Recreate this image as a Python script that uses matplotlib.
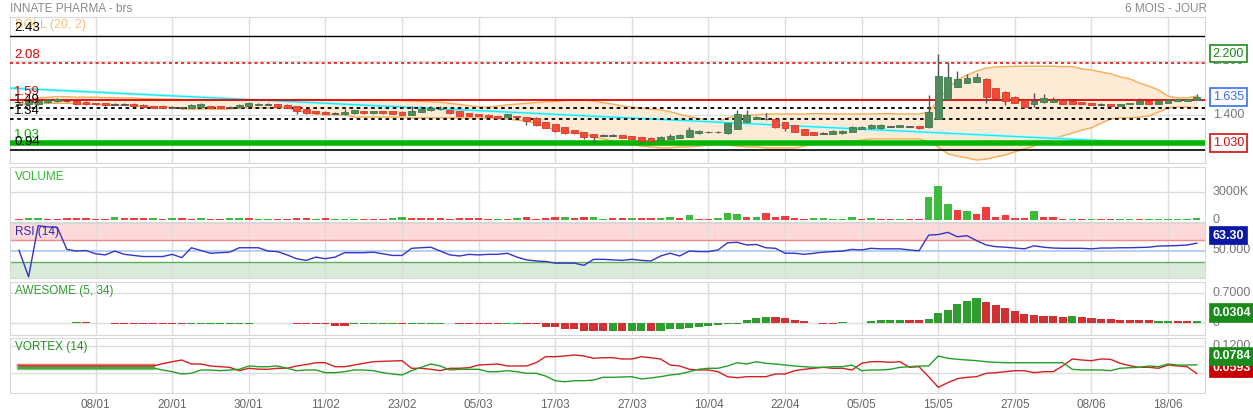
import numpy as np
import matplotlib.pyplot as plt
from matplotlib.transforms import blended_transform_factory

plt.rcParams['font.family'] = ['Liberation Sans', 'DejaVu Sans']

# ---- data (one entry per trading day) ----
tick_pos = [8, 16, 24, 32, 40, 48, 56, 64, 72, 80, 88, 96, 104, 112, 120]
tick_labels = ['08/01', '20/01', '30/01', '11/02', '23/02', '05/03', '17/03', '27/03',
               '10/04', '22/04', '05/05', '15/05', '27/05', '08/06', '18/06']

opens = [1.54, 1.54, 1.54, 1.57, 1.58, 1.58, 1.58, 1.57, 1.55, 1.55,
         1.54, 1.54, 1.54, 1.53, 1.515, 1.515, 1.50, 1.49, 1.49, 1.50,
         1.515, 1.515, 1.50, 1.50, 1.515, 1.53, 1.54, 1.54, 1.53, 1.515,
         1.475, 1.45, 1.44, 1.42, 1.41, 1.42, 1.45, 1.42, 1.45, 1.45,
         1.44, 1.40, 1.44, 1.46, 1.47, 1.46, 1.45, 1.42, 1.41, 1.40,
         1.385, 1.37, 1.385, 1.37, 1.36, 1.305, 1.28, 1.24, 1.20, 1.175,
         1.15, 1.135, 1.135, 1.135, 1.12, 1.11, 1.10, 1.07, 1.085, 1.10,
         1.11, 1.16, 1.175, 1.175, 1.16, 1.215, 1.305, 1.345, 1.345, 1.345,
         1.305, 1.265, 1.215, 1.175, 1.16, 1.15, 1.16, 1.175, 1.215, 1.225,
         1.225, 1.25, 1.24, 1.25, 1.25, 1.24, 1.345, 1.605, 1.765, 1.815,
         1.83, 1.87, 1.75, 1.70, 1.635, 1.595, 1.54, 1.565, 1.57, 1.595,
         1.58, 1.565, 1.555, 1.54, 1.54, 1.515, 1.54, 1.54, 1.58, 1.54,
         1.555, 1.58, 1.58, 1.595]
closes = [1.54, 1.58, 1.58, 1.59, 1.61, 1.58, 1.54, 1.54, 1.54, 1.53,
          1.54, 1.54, 1.515, 1.50, 1.49, 1.49, 1.50, 1.49, 1.53, 1.54,
          1.49, 1.49, 1.50, 1.53, 1.555, 1.54, 1.54, 1.50, 1.49, 1.45,
          1.42, 1.42, 1.41, 1.42, 1.44, 1.46, 1.42, 1.45, 1.42, 1.41,
          1.40, 1.45, 1.475, 1.49, 1.48, 1.42, 1.385, 1.385, 1.385, 1.37,
          1.36, 1.41, 1.37, 1.32, 1.265, 1.23, 1.19, 1.16, 1.16, 1.11,
          1.11, 1.135, 1.135, 1.10, 1.085, 1.055, 1.055, 1.11, 1.12, 1.135,
          1.20, 1.19, 1.175, 1.175, 1.29, 1.41, 1.395, 1.37, 1.345, 1.24,
          1.23, 1.175, 1.135, 1.135, 1.16, 1.19, 1.19, 1.24, 1.24, 1.265,
          1.265, 1.25, 1.265, 1.25, 1.225, 1.435, 1.905, 1.895, 1.87, 1.88,
          1.895, 1.635, 1.62, 1.58, 1.555, 1.50, 1.58, 1.62, 1.595, 1.54,
          1.54, 1.54, 1.53, 1.54, 1.515, 1.54, 1.555, 1.58, 1.54, 1.58,
          1.595, 1.605, 1.605, 1.635]
highs = [1.55, 1.59, 1.59, 1.60, 1.62, 1.60, 1.59, 1.58, 1.56, 1.56,
         1.56, 1.56, 1.55, 1.54, 1.52, 1.52, 1.515, 1.50, 1.54, 1.55,
         1.52, 1.52, 1.515, 1.54, 1.565, 1.55, 1.555, 1.545, 1.535, 1.52,
         1.48, 1.455, 1.445, 1.43, 1.475, 1.465, 1.455, 1.455, 1.455, 1.455,
         1.445, 1.515, 1.515, 1.515, 1.515, 1.465, 1.455, 1.425, 1.415, 1.405,
         1.39, 1.415, 1.39, 1.375, 1.365, 1.31, 1.285, 1.245, 1.205, 1.18,
         1.155, 1.15, 1.15, 1.14, 1.125, 1.115, 1.105, 1.12, 1.15, 1.145,
         1.24, 1.20, 1.185, 1.19, 1.295, 1.46, 1.46, 1.385, 1.42, 1.35,
         1.31, 1.27, 1.22, 1.18, 1.17, 1.20, 1.195, 1.25, 1.25, 1.28,
         1.275, 1.26, 1.27, 1.26, 1.255, 1.66, 2.195, 2.09, 1.97, 1.93,
         1.95, 1.875, 1.755, 1.705, 1.64, 1.60, 1.685, 1.67, 1.63, 1.60,
         1.585, 1.57, 1.56, 1.55, 1.545, 1.545, 1.56, 1.62, 1.585, 1.585,
         1.61, 1.61, 1.61, 1.67]
lows = [1.53, 1.53, 1.53, 1.56, 1.57, 1.57, 1.53, 1.53, 1.53, 1.52,
        1.53, 1.53, 1.51, 1.495, 1.485, 1.485, 1.49, 1.48, 1.485, 1.495,
        1.485, 1.485, 1.49, 1.495, 1.51, 1.525, 1.53, 1.495, 1.485, 1.41,
        1.41, 1.415, 1.405, 1.41, 1.40, 1.415, 1.415, 1.415, 1.415, 1.405,
        1.395, 1.395, 1.435, 1.455, 1.465, 1.415, 1.38, 1.38, 1.38, 1.365,
        1.355, 1.365, 1.365, 1.265, 1.26, 1.225, 1.175, 1.15, 1.155, 1.085,
        1.045, 1.125, 1.125, 1.095, 1.08, 1.05, 1.05, 1.065, 1.08, 1.095,
        1.105, 1.155, 1.165, 1.16, 1.155, 1.21, 1.30, 1.34, 1.335, 1.23,
        1.19, 1.17, 1.13, 1.13, 1.15, 1.145, 1.155, 1.17, 1.21, 1.22,
        1.22, 1.24, 1.235, 1.24, 1.22, 1.23, 1.34, 1.60, 1.76, 1.81,
        1.825, 1.555, 1.605, 1.53, 1.55, 1.495, 1.50, 1.56, 1.565, 1.535,
        1.535, 1.535, 1.525, 1.53, 1.51, 1.51, 1.535, 1.535, 1.535, 1.535,
        1.55, 1.575, 1.575, 1.59]

boll_upper = [1.555, 1.595, 1.62, 1.63, 1.635, 1.635, 1.63, 1.63, 1.63, 1.625,
              1.625, 1.62, 1.62, 1.61, 1.61, 1.605, 1.605, 1.60, 1.60, 1.60,
              1.60, 1.60, 1.60, 1.60, 1.60, 1.595, 1.595, 1.595, 1.595, 1.60,
              1.60, 1.595, 1.59, 1.59, 1.59, 1.59, 1.595, 1.595, 1.59, 1.59,
              1.585, 1.58, 1.575, 1.57, 1.565, 1.55, 1.535, 1.52, 1.505, 1.50,
              1.515, 1.53, 1.54, 1.55, 1.56, 1.57, 1.575, 1.585, 1.59, 1.593,
              1.58, 1.56, 1.54, 1.515, 1.50, 1.49, 1.475, 1.465, 1.44, 1.405,
              1.38, 1.35, 1.325, 1.31, 1.36, 1.385, 1.395, 1.40, 1.41, 1.41,
              1.41, 1.41, 1.41, 1.415, 1.415, 1.41, 1.41, 1.41, 1.41, 1.41,
              1.415, 1.415, 1.41, 1.41, 1.41, 1.435, 1.59, 1.75, 1.855, 1.92,
              1.97, 2.01, 2.025, 2.03, 2.035, 2.035, 2.035, 2.035, 2.035, 2.03,
              2.03, 2.00, 1.985, 1.96, 1.935, 1.895, 1.87, 1.815, 1.775, 1.725,
              1.645, 1.62, 1.62, 1.645]
boll_lower = [1.54, 1.54, 1.545, 1.55, 1.55, 1.55, 1.545, 1.54, 1.535, 1.525,
              1.525, 1.525, 1.525, 1.50, 1.50, 1.50, 1.50, 1.475, 1.475, 1.475,
              1.475, 1.475, 1.475, 1.49, 1.49, 1.49, 1.49, 1.49, 1.49, 1.46,
              1.425, 1.41, 1.40, 1.40, 1.40, 1.37, 1.37, 1.37, 1.37, 1.37,
              1.37, 1.36, 1.36, 1.36, 1.36, 1.36, 1.36, 1.36, 1.36, 1.36,
              1.345, 1.345, 1.33, 1.32, 1.28, 1.24, 1.20, 1.175, 1.16, 1.15,
              1.11, 1.085, 1.055, 1.03, 1.005, 0.99, 0.98, 0.965, 0.965, 0.98,
              0.98, 0.99, 1.005, 1.02, 1.005, 0.99, 0.98, 0.98, 0.965, 0.965,
              0.965, 0.965, 0.99, 1.02, 1.03, 1.045, 1.055, 1.055, 1.07, 1.085,
              1.085, 1.085, 1.085, 1.085, 1.085, 1.045, 0.98, 0.89, 0.86, 0.835,
              0.81, 0.82, 0.85, 0.875, 0.915, 0.955, 0.99, 1.045, 1.085, 1.125,
              1.16, 1.20, 1.23, 1.29, 1.345, 1.36, 1.36, 1.37, 1.385, 1.435,
              1.49, 1.50, 1.50, 1.49]

# trendline (cyan), two anchor points
trend_x = [-1, 115]
trend_y = [1.75, 1.05]

# horizontal price levels
levels = [2.43, 2.08, 1.59, 1.49, 1.34, 1.03, 0.94]
level_labels = ['2.43', '2.08', '1.59', '1.49', '1.34', '1.03', '0.94']
level_colors = ['black', '#e00000', '#e00000', 'black', 'black', '#00b400', 'black']

volume_k = [150, 170, 170, 140, 160, 180, 200, 190, 140, 150,
            300, 190, 200, 190, 180, 160, 260, 170, 150, 170,
            150, 160, 180, 260, 170, 150, 150, 150, 150, 250,
            250, 140, 220, 150, 150, 140, 150, 150, 140, 180,
            280, 180, 200, 210, 210, 150, 200, 240, 170, 160,
            140, 150, 170, 340, 150, 200, 370, 320, 220, 340,
            340, 160, 180, 230, 230, 230, 180, 230, 300, 230,
            535, 160, 160, 180, 780, 640, 360, 320, 780, 360,
            430, 230, 160, 180, 180, 120, 120, 320, 160, 180,
            120, 120, 120, 120, 120, 2460, 3640, 1710, 1070, 960,
            640, 1420, 320, 530, 230, 230, 960, 320, 320, 160,
            160, 160, 160, 160, 140, 90, 90, 160, 90, 120,
            160, 140, 90, 250]
volume_dir = ('rggrrrrrrr' 'grrrgrgrrg' 'rrggrggrrr' 'rgrgggrrrg' 'grrrrrrrrr'
              'grgrrrrgrr' 'ggrrgrrggr' 'grrgggrgrr' 'rrrgggggrg' 'rrgrrgggrg'
              'rrrrrrgrrr' 'grgrrggrgg' 'gggg')

rsi = [50.5, 2, 95, 93, 92, 52, 49, 50, 44, 42,
       49, 43, 41, 39, 39, 39, 43, 37, 55, 50,
       45, 46, 47, 55, 55, 55, 49, 48, 42, 35,
       32, 38, 35, 38, 46, 46, 46, 47, 44, 41,
       41, 54, 55, 56, 49, 42, 40, 43, 42, 43,
       43, 45, 38, 33, 31, 30, 27, 27, 27, 23,
       34, 34, 33, 32, 34, 32, 31, 40, 45, 40,
       49, 48, 48, 51, 64, 65, 60, 61, 55, 54,
       45, 45, 43, 45, 47, 48, 49, 52, 51, 54,
       53, 53, 53, 51, 49.5, 78, 79, 83, 75, 77,
       68, 60, 57, 56, 54.5, 53, 58.5, 56, 54.5, 54,
       54, 54, 53, 54.5, 54.5, 55, 55, 55.5, 56, 58,
       58.5, 59, 60, 63.3]

awesome = [None, None, None, None, None, None, 0.02, 0.02, None, None,
           -0.02, -0.02, -0.02, -0.02, -0.02, -0.02, -0.03, -0.03, -0.02, -0.02,
           -0.02, -0.02, -0.02, -0.02, -0.02, None, None, None, None, -0.02,
           -0.02, -0.02, -0.03, -0.07, -0.07, -0.035, -0.035, -0.035, -0.035, -0.035,
           -0.03, -0.025, -0.025, -0.025, -0.025, None, -0.02, -0.02, -0.025, -0.025,
           -0.025, -0.025, -0.025, -0.03, -0.03, -0.095, -0.095, -0.15, -0.15, -0.19,
           -0.19, -0.19, -0.19, -0.19, -0.19, -0.19, -0.19, -0.19, -0.16, -0.14,
           -0.12, -0.095, -0.07, -0.048, -0.024, -0.02, 0.063, 0.11, 0.135, 0.135,
           0.12, 0.056, 0.032, -0.015, -0.024, -0.024, 0.015, None, None, 0.032,
           0.056, 0.056, 0.056, 0.056, 0.055, 0.095, 0.22, 0.31, 0.44, 0.52,
           0.59, 0.50, 0.42, 0.35, 0.28, 0.21, 0.19, 0.165, 0.165, 0.14,
           0.165, 0.135, 0.11, 0.095, 0.095, 0.07, 0.07, 0.07, 0.063, 0.04,
           0.032, 0.032, 0.032, 0.0304]
awesome_dir = ('------gr--' 'rrrrrrrrgg' 'ggggg----r' 'rrrrrggggg' 'rgggg-rrrr'
               'rggrrrrrrr' 'rrgrggrggg' 'gggggggggr' 'rrrrrrg--g' 'gggrrggggg'
               'grrrrrrrrr' 'grrrrrrrrg' 'grrg')

vortex_minus = [0.0759] * 15 + [
    0.081, 0.0852, 0.0889, 0.0802, 0.0802, 0.0759, 0.0743, 0.073, 0.0657, 0.0709,
    0.069, 0.0687, 0.0709, 0.0709, 0.0759, 0.079, 0.083, 0.083, 0.0743, 0.0743,
    0.078, 0.0817, 0.0852, 0.086, 0.0867, 0.0874, 0.0709, 0.0709, 0.0687, 0.0657,
    0.0709, 0.0709, 0.0722, 0.078, 0.079, 0.0802, 0.0759, 0.0759, 0.0759, 0.083,
    0.0961, 0.0961, 0.0976, 0.0998, 0.0976, 0.0926, 0.0939, 0.0939, 0.0911, 0.0911,
    0.0961, 0.0939, 0.0911, 0.078, 0.0759, 0.0687, 0.0672, 0.0672, 0.0635, 0.0526,
    0.0504, 0.0526, 0.0526, 0.0526, 0.0585, 0.0585, 0.0657, 0.0687, 0.0709, 0.073,
    0.0709, 0.0709, 0.0672, 0.0817, 0.0852, 0.0852, 0.0839, 0.0852, 0.073, 0.0743,
    0.0526, 0.0296, 0.0396, 0.0483, 0.0513, 0.0526, 0.06, 0.0613, 0.0635, 0.0657,
    0.0657, 0.0613, 0.0635, 0.0635, 0.0759, 0.0911, 0.0889, 0.0874, 0.0911, 0.0904,
    0.0817, 0.0765, 0.073, 0.073, 0.0709, 0.078, 0.0759, 0.0743, 0.0593]
vortex_plus = [0.0715] * 15 + [
    0.0672, 0.0635, 0.0585, 0.06, 0.0672, 0.0672, 0.0657, 0.0672, 0.0687, 0.0759,
    0.0743, 0.0743, 0.0759, 0.0709, 0.0657, 0.0672, 0.0672, 0.0613, 0.0613, 0.0635,
    0.0672, 0.0672, 0.0657, 0.0613, 0.0585, 0.0563, 0.0657, 0.073, 0.0802, 0.0759,
    0.0672, 0.0687, 0.0687, 0.0687, 0.0635, 0.0635, 0.0657, 0.0635, 0.06, 0.06,
    0.0541, 0.0439, 0.0417, 0.0439, 0.0439, 0.0454, 0.0513, 0.0513, 0.052, 0.0526,
    0.0476, 0.05, 0.0526, 0.0563, 0.0585, 0.0635, 0.0687, 0.0709, 0.0709, 0.0759,
    0.083, 0.0802, 0.0852, 0.0817, 0.0802, 0.078, 0.0759, 0.0743, 0.073, 0.073,
    0.0743, 0.0743, 0.078, 0.0657, 0.0672, 0.0672, 0.0687, 0.073, 0.0743, 0.0759,
    0.0759, 0.0976, 0.0926, 0.0904, 0.0889, 0.0874, 0.0852, 0.0839, 0.083, 0.083,
    0.083, 0.083, 0.083, 0.083, 0.083, 0.0687, 0.0672, 0.0672, 0.0672, 0.0657,
    0.0709, 0.0722, 0.073, 0.0759, 0.0743, 0.0802, 0.078, 0.078, 0.0784]

# ---- figure ----
W, H = 1253, 413
fig = plt.figure(figsize=(W / 100, H / 100), dpi=100)


def panel(top, bottom):
    return fig.add_axes([10 / W, 1 - bottom / H, 1195 / W, (bottom - top) / H])


ax_main = panel(17, 163)
ax_vol = panel(167, 222)
ax_rsi = panel(223, 278)
ax_ao = panel(282, 335)
ax_vx = panel(338, 393)
axes = [ax_main, ax_vol, ax_rsi, ax_ao, ax_vx]

x = np.arange(len(closes))
for ax in axes:
    ax.set_xlim(-0.94, 123.86)
    ax.set_xticks(tick_pos)
    ax.set_yticks([])
    ax.tick_params(length=0, labelbottom=False)
    ax.grid(axis='x', color='#dddddd', lw=1)
    ax.set_axisbelow(True)
    for s in ax.spines.values():
        s.set_color('#d8d8d8')

grey = '#777777'


def right_label(ax, y, text, color=grey, box=None, fc='white', dy=0, bold=False):
    tr = blended_transform_factory(ax.transAxes, ax.transData)
    kw = {}
    if box is not None:
        kw['bbox'] = dict(boxstyle='square,pad=0.22', fc=fc, ec=box, lw=1.2)
    ax.annotate(text, xy=(1.0065, y), xycoords=tr, xytext=(0, dy), textcoords='offset points',
                color=color, fontsize=9, va='center', ha='left', annotation_clip=False,
                fontweight='bold' if bold else 'normal', zorder=10, **kw)


def left_title(ax, text, color, y=0.93):
    ax.text(0.004, y, text, transform=ax.transAxes, color=color, fontsize=8.5,
            va='top', ha='left', zorder=10)


# ---- main price panel ----
ax = ax_main
ax.set_ylim(0.77, 2.678)
for gy in [2.1, 1.4]:
    ax.axhline(gy, color='#dddddd', lw=1, zorder=0)
ax.fill_between(x, boll_lower, boll_upper, color='#fdebd6', lw=0, zorder=1)
ax.plot(x, boll_upper, color='#f6ad55', lw=1, zorder=2)
ax.plot(x, boll_lower, color='#f6ad55', lw=1, zorder=2)
ax.plot(trend_x, trend_y, color='#c4f8fa', lw=2.4, zorder=3, solid_capstyle='butt')
ax.plot(trend_x, trend_y, color='#1ce8f2', lw=1.0, zorder=3)

ax.axhline(levels[0], color='black', lw=1, zorder=4)
ax.axhline(levels[1], color='#e00000', lw=1.1, ls=(0, (2, 2)), zorder=4)
ax.axhline(levels[2], color='#e00000', lw=1.3, zorder=4)
ax.axhline(levels[3], color='black', lw=1.3, ls=(0, (2, 2)), zorder=4)
ax.axhline(levels[4], color='black', lw=1.3, ls=(0, (2, 2)), zorder=4)
ax.axhline(levels[5], color='#00b400', lw=4, zorder=4)
ax.axhline(levels[6], color='black', lw=1.2, zorder=4)

o = np.array(opens)
c = np.array(closes)
up = c > o
down = c < o
flat = c == o
body_col = np.where(up, '#4f8b5d', np.where(down, '#f44b39', '#555555'))
edge_col = np.where(up, '#3f7a4d', np.where(down, '#d93a2a', '#555555'))
body_h = np.where(flat, 0.012, np.abs(c - o))
body_b = np.where(flat, o - 0.006, np.minimum(o, c))
ax.vlines(x, lows, highs, color='#555555', lw=1, zorder=5)
ax.bar(x, body_h, bottom=body_b, width=0.72, color=body_col, edgecolor=edge_col,
       lw=0.6, zorder=6)

trm = blended_transform_factory(ax.transAxes, ax.transData)
ax.annotate('BOLL (20, 2)', xy=(0.004, 2.43), xycoords=trm, xytext=(0, 3.5),
            textcoords='offset points', color='#f8b35c', alpha=0.85, fontsize=9,
            va='bottom', ha='left', zorder=9)
for lv, lab, col in zip(levels, level_labels, level_colors):
    ax.annotate(lab, xy=(0.0035, lv), xycoords=trm, xytext=(0, 1.5), textcoords='offset points',
                color=col, fontsize=9.5, va='bottom', ha='left', zorder=9)

right_label(ax, 2.1, '2.100')
right_label(ax, 2.2, '2.200', color='#1a8a1a', box='#1a8a1a')
right_label(ax, 1.635, '1.635', color='#3a6ff0', box='#3a6ff0')
right_label(ax, 1.4, '1.400')
right_label(ax, 1.03, '1.030', color='#cc1111', box='#cc1111')

fig.text(10 / W, 1 - 9 / H, 'INNATE PHARMA - brs', color='#8a8a8a', fontsize=8.5,
         va='center', ha='left')
fig.text(1207 / W, 1 - 9 / H, '6 MOIS - JOUR', color='#8a8a8a', fontsize=8.5,
         va='center', ha='right')

# ---- volume ----
ax = ax_vol
ax.set_ylim(-210, 5680)
ax.axhline(3000, color='#dddddd', lw=1, zorder=0)
vcol = ['#3dbb3d' if d == 'g' else '#f03c3c' for d in volume_dir]
ax.bar(x, volume_k, width=0.78, color=vcol, zorder=3)
left_title(ax, 'VOLUME', '#33b533')
right_label(ax, 3000, '3000K')
right_label(ax, 0, '0')

# ---- RSI ----
ax = ax_rsi
ax.set_ylim(0, 100)
ax.axhspan(70, 100, color='#fdd9d9', lw=0, zorder=0)
ax.axhspan(0, 30, color='#d9ecd9', lw=0, zorder=0)
ax.axhline(70, color='#f08a8a', lw=1, zorder=1)
ax.axhline(30, color='#5fae5f', lw=1, zorder=1)
ax.axhline(50, color='#a9c9f2', lw=1.2, zorder=1)
ax.plot(x, rsi, color='#3535c8', lw=1, zorder=3)
left_title(ax, 'RSI (14)', '#2b2bb0', y=0.95)
right_label(ax, 50, '50.000', dy=0.5)
right_label(ax, rsi[-1], '63.30', color='white', box='#0a18a6', fc='#0a18a6', dy=5.5, bold=True)

# ---- awesome oscillator ----
ax = ax_ao
ax.set_ylim(-0.293, 0.969)
ax.axhline(0.7, color='#dddddd', lw=1, zorder=0)
ax.axhline(0, color='#dddddd', lw=1, zorder=0)
ao_x = [i for i, v in enumerate(awesome) if v is not None]
ao_v = [awesome[i] for i in ao_x]
ao_c = ['#2e9e2e' if awesome_dir[i] == 'g' else '#d13131' for i in ao_x]
ax.bar(ao_x, ao_v, width=0.85, color=ao_c, zorder=3)
left_title(ax, 'AWESOME (5, 34)', '#2e9e2e', y=0.95)
right_label(ax, 0.7, '0.7000')
right_label(ax, 0, '0')
right_label(ax, awesome[-1], '0.0304', color='white', box='#1a8a1a', fc='#1a8a1a', dy=6, bold=True)

# ---- vortex ----
ax = ax_vx
ax.set_ylim(0.0172, 0.1367)
ax.axhline(0.12, color='#dddddd', lw=1, zorder=0)
ax.axhline(0.06, color='#dddddd', lw=1, zorder=0)
ax.plot(x[:15], vortex_minus[:15], color='#e07878', lw=3.2, zorder=2)
ax.plot(x[:15], vortex_plus[:15], color='#7cc87c', lw=3.2, zorder=2)
ax.plot(x, vortex_minus, color='#d42020', lw=1, zorder=3)
ax.plot(x, vortex_plus, color='#23a023', lw=1, zorder=3)
left_title(ax, 'VORTEX (14)', '#1f951f', y=0.95)
right_label(ax, 0.12, '0.1200')
right_label(ax, 0.06, '0.0600', dy=-1)
right_label(ax, vortex_minus[-1], '0.0593', color='white', box='#c80000', fc='#c80000', dy=4, bold=True)
right_label(ax, vortex_plus[-1], '0.0784', color='white', box='#1a8a1a', fc='#1a8a1a', dy=6, bold=True)

ax.tick_params(labelbottom=True, labelsize=8.5, labelcolor='#666666', pad=4)
ax.set_xticklabels(tick_labels)

fig.savefig('out.png', dpi=100, facecolor='white')
